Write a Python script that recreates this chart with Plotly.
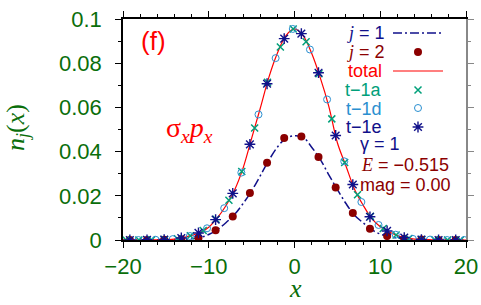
import plotly.graph_objects as go

# ---------------- data ----------------
curve_x = list(range(-20, 21))
j1_y = [0.0000, 0.0000, 0.0000, 0.0000, 0.0001, 0.0001, 0.0002, 0.0003, 0.0006, 0.0011,
        0.0025, 0.0047, 0.0078, 0.0115, 0.0165, 0.0222, 0.0290, 0.0360, 0.0420, 0.0460,
        0.0472, 0.0465, 0.0420, 0.0365, 0.0295, 0.0228, 0.0165, 0.0112, 0.0078, 0.0047,
        0.0027, 0.0016, 0.0009, 0.0005, 0.0003, 0.0002, 0.0001, 0.0000, 0.0000, 0.0000, 0.0000]
total_y = [0.0000, 0.0000, 0.0000, 0.0001, 0.0001, 0.0002, 0.0004, 0.0010, 0.0021, 0.0034,
           0.0058, 0.0100, 0.0155, 0.0225, 0.0325, 0.0460, 0.0595, 0.0735, 0.0845, 0.0925,
           0.0955, 0.0925, 0.0845, 0.0735, 0.0605, 0.0440, 0.0335, 0.0230, 0.0158, 0.0098,
           0.0060, 0.0037, 0.0020, 0.0009, 0.0004, 0.0002, 0.0001, 0.0000, 0.0000, 0.0000, 0.0000]

odd_x = [-19.2, -17.2, -15.2, -13.2, -11.2, -9.2, -7.2, -5.2, -3.2, -1.2,
         0.8, 2.8, 4.8, 6.8, 8.8, 10.8, 12.8, 14.8, 16.8, 18.8]
j2_y = [0.0000, 0.0000, 0.0001, 0.0003, 0.0010, 0.0044, 0.0106, 0.0213, 0.0350, 0.0461,
        0.0468, 0.0376, 0.0238, 0.0122, 0.0051, 0.0018, 0.0006, 0.0002, 0.0000, 0.0000]

t1a_x = [-19.65, -18.15, -16.65, -15.15, -13.65, -12.15, -10.65, -9.15, -7.65, -6.15,
         -4.65, -3.15, -1.65, -0.15, 1.35, 2.85, 4.35, 5.85, 7.35, 8.85,
         10.35, 11.85, 13.35, 14.85, 16.35, 17.85, 19.35]
t1a_y = [0.0000, 0.0000, 0.0001, 0.0002, 0.0006, 0.0019, 0.0043, 0.0094, 0.0180, 0.0310,
         0.0507, 0.0714, 0.0873, 0.0955, 0.0897, 0.0752, 0.0548, 0.0351, 0.0205, 0.0107,
         0.0052, 0.0023, 0.0007, 0.0002, 0.0001, 0.0000, 0.0000]

t1d_x = [-18.2, -16.2, -14.2, -12.2, -10.2, -8.2, -6.2, -4.2, -2.2, -0.2,
         1.8, 3.8, 5.8, 7.8, 9.8, 11.8, 13.8, 15.8, 17.8, 19.8]
t1d_y = [0.0000, 0.0001, 0.0004, 0.0018, 0.0053, 0.0144, 0.0305, 0.0568, 0.0823, 0.0955,
         0.0862, 0.0636, 0.0356, 0.0172, 0.0068, 0.0024, 0.0005, 0.0002, 0.0000, 0.0000]

t1e_x = odd_x
t1e_y = [0.0000, 0.0001, 0.0002, 0.0009, 0.0032, 0.0092, 0.0211, 0.0433, 0.0707, 0.0911,
         0.0934, 0.0757, 0.0473, 0.0251, 0.0105, 0.0041, 0.0011, 0.0002, 0.0000, 0.0000]

x_ticks = [-20, -10, 0, 10, 20]
x_tick_text = ["\u221220", "\u221210", "0", "10", "20"]
y_ticks = [0, 0.02, 0.04, 0.06, 0.08, 0.1]
y_tick_text = ["0", "0.02", "0.04", "0.06", "0.08", "0.1"]

# ---------------- styles ----------------
W, H = 481, 305
L, R, T, B = 123, 466, 19, 240
NAVY = "#10108a"
DRED = "#8b0000"
RED = "#ff0000"
TEAL = "#00a07a"
BLUE = "#2a8fd0"
GREEN = "#0a6e0a"
SANS = "Liberation Sans"
SERIF = "Liberation Serif"

def px(x):
    return (x - L) / (R - L)

def py(y):
    return (B - y) / (B - T)

DASHDOT = "9px,3px,2px,3px"
fig = go.Figure()

fig.add_trace(go.Scatter(x=curve_x, y=j1_y, mode="lines", line_shape="spline",
                         line=dict(color=NAVY, width=1.5, dash=DASHDOT)))
fig.add_trace(go.Scatter(x=odd_x, y=j2_y, mode="markers",
                         marker=dict(color=DRED, size=8, symbol="circle")))
fig.add_trace(go.Scatter(x=curve_x, y=total_y, mode="lines", line_shape="spline",
                         line=dict(color=RED, width=1.2)))
fig.add_trace(go.Scatter(x=t1a_x, y=t1a_y, mode="markers",
                         marker=dict(symbol="x-thin-open", size=7, color=TEAL,
                                     line=dict(color=TEAL, width=1.5))))
fig.add_trace(go.Scatter(x=t1d_x, y=t1d_y, mode="markers",
                         marker=dict(symbol="circle-open", size=7, color=BLUE,
                                     line=dict(color=BLUE, width=1))))
fig.add_trace(go.Scatter(x=t1e_x, y=t1e_y, mode="markers",
                         marker=dict(symbol="asterisk-open", size=9, color=NAVY,
                                     line=dict(color=NAVY, width=1.4))))

# legend samples on an overlay axis expressed in pixel units
leg_x0, leg_x1, leg_xm = 393, 443, 418
fig.add_trace(go.Scatter(x=[leg_x0, leg_x1], y=[33, 33], mode="lines", xaxis="x2", yaxis="y2",
                         line=dict(color=NAVY, width=1.5, dash=DASHDOT)))
fig.add_trace(go.Scatter(x=[leg_xm], y=[52], mode="markers", xaxis="x2", yaxis="y2",
                         marker=dict(color=DRED, size=8)))
fig.add_trace(go.Scatter(x=[leg_x0, leg_x1], y=[71, 71], mode="lines", xaxis="x2", yaxis="y2",
                         line=dict(color=RED, width=1.2)))
fig.add_trace(go.Scatter(x=[leg_xm], y=[90], mode="markers", xaxis="x2", yaxis="y2",
                         marker=dict(symbol="x-thin-open", size=7, color=TEAL,
                                     line=dict(color=TEAL, width=1.5))))
fig.add_trace(go.Scatter(x=[leg_xm], y=[108], mode="markers", xaxis="x2", yaxis="y2",
                         marker=dict(symbol="circle-open", size=7, color=BLUE,
                                     line=dict(color=BLUE, width=1))))
fig.add_trace(go.Scatter(x=[leg_xm], y=[127], mode="markers", xaxis="x2", yaxis="y2",
                         marker=dict(symbol="asterisk-open", size=9, color=NAVY,
                                     line=dict(color=NAVY, width=1.4))))

# dummy traces so the frame axes (top, right) are drawn
fig.add_trace(go.Scatter(x=[None], y=[None], yaxis="y3", xaxis="x"))
fig.add_trace(go.Scatter(x=[None], y=[None], yaxis="y", xaxis="x3"))

tickfont = dict(family=SANS, size=22, color=GREEN)
fig.update_layout(
    width=W, height=H, showlegend=False,
    paper_bgcolor="white", plot_bgcolor="white",
    margin=dict(l=L, r=W - R, t=T, b=H - B, pad=0, autoexpand=False),
    xaxis=dict(range=[-20, 20], tickvals=x_ticks, ticktext=x_tick_text, automargin=False,
               ticks="outside", ticklen=6, tickwidth=1.2, tickcolor="black",
               showline=True, linecolor="black", linewidth=1.5,
               showgrid=False, zeroline=False, tickfont=tickfont,
               minor=dict(dtick=2, ticks="outside", ticklen=3, tickcolor="black", tickwidth=1)),
    xaxis3=dict(range=[-20, 20], overlaying="x", side="top", anchor="y", automargin=False,
                tickvals=x_ticks, showticklabels=False,
                ticks="outside", ticklen=6, tickwidth=1.2, tickcolor="black",
                showline=True, linecolor="black", linewidth=1.5,
                showgrid=False, zeroline=False,
                minor=dict(dtick=2, ticks="outside", ticklen=3, tickcolor="black", tickwidth=1)),
    yaxis=dict(range=[0, 0.1], tickvals=y_ticks, ticktext=y_tick_text, automargin=False,
               ticks="outside", ticklen=6, tickwidth=1.2, tickcolor="black",
               showline=True, linecolor="black", linewidth=1.5,
               showgrid=False, zeroline=False, tickfont=tickfont, ticklabelstandoff=9,
               minor=dict(dtick=0.01, ticks="outside", ticklen=3, tickcolor="black", tickwidth=1)),
    yaxis3=dict(range=[0, 0.1], overlaying="y", side="right", anchor="x", automargin=False,
                tickvals=y_ticks, showticklabels=False,
                ticks="outside", ticklen=6, tickwidth=1.2, tickcolor="#888888",
                showline=True, linecolor="#888888", linewidth=2,
                showgrid=False, zeroline=False,
                minor=dict(dtick=0.01, ticks="outside", ticklen=3, tickcolor="#888888", tickwidth=1)),
    xaxis2=dict(range=[L, R], overlaying="x", visible=False, fixedrange=True, automargin=False),
    yaxis2=dict(range=[B, T], overlaying="y", visible=False, fixedrange=True, automargin=False),
)

def ann(text, x, y, color, size=18, family=SANS, xanchor="right", angle=0):
    fig.add_annotation(text=text, x=px(x), y=py(y), xref="paper", yref="paper",
                       showarrow=False, xanchor=xanchor, yanchor="middle", textangle=angle,
                       font=dict(family=family, size=size, color=color))

jsp = "<span style='font-family:Liberation Serif'><i>j</i></span>"
ann(jsp + " = 1", 387, 33, NAVY)
ann(jsp + " = 2", 387, 52, DRED)
ann("total", 384, 71, RED)
ann("t\u22121a", 384, 90, TEAL)
ann("t\u22121d", 384, 109, BLUE)
ann("t\u22121e", 384, 127, NAVY)
ann("\u03b3 = 1", 380, 144, NAVY, xanchor="center")
ann("<span style='font-family:Liberation Serif'><i>E</i></span> = \u22120.515", 405, 165, DRED, xanchor="center")
ann("mag = 0.00", 405, 185, DRED, xanchor="center")
ann("(f)", 153, 41, RED, size=26, xanchor="center")
ann("\u03c3<sub><i>x</i></sub><i>p</i><sub><i>x</i></sub>", 189, 129, RED, size=28,
    family=SERIF, xanchor="center")
# axis titles
ann("<i>x</i>", 295, 288, GREEN, size=26, family=SERIF, xanchor="center")
ann("<i>n<sub>j</sub></i>(<i>x</i>)", 17, 128, GREEN, size=26, family=SERIF,
    xanchor="center", angle=-90)

fig.write_html("out.html", config={"displayModeBar": False},
               post_script="document.body.style.margin='0px';document.body.style.padding='0px';")
